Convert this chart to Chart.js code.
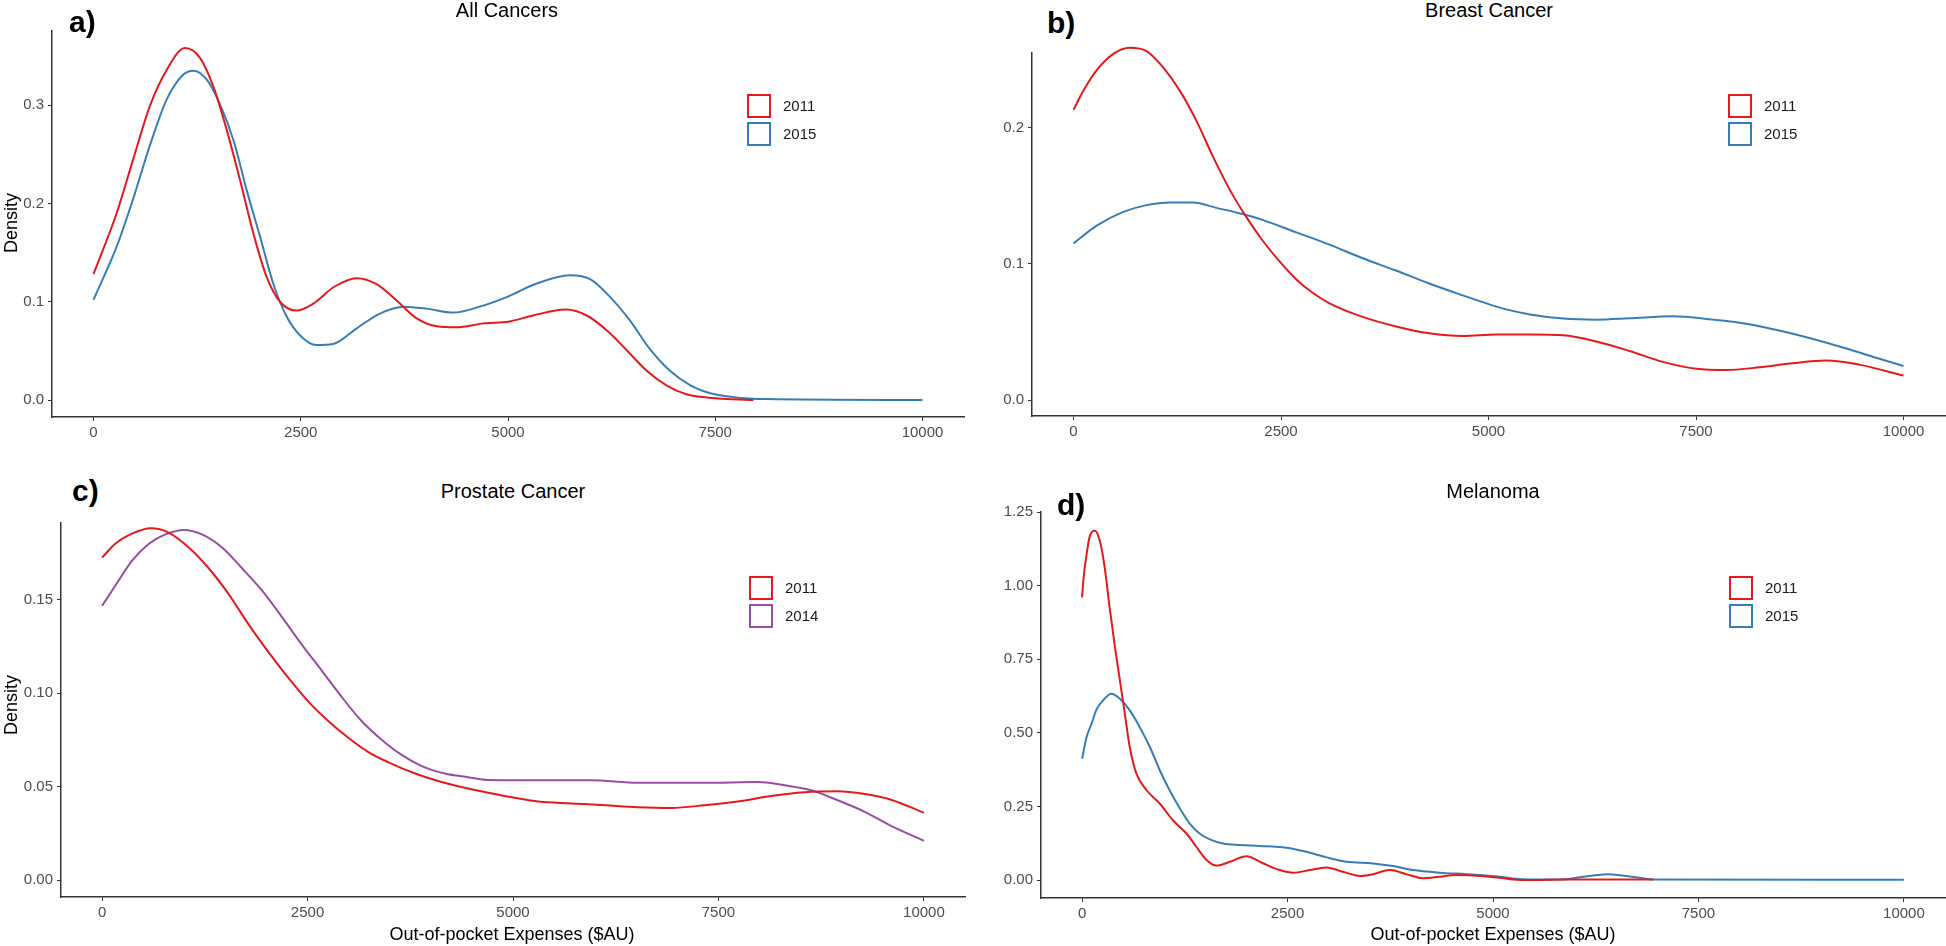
<!DOCTYPE html>
<html lang="en">
<head>
<meta charset="utf-8">
<title>Out-of-pocket expenses density</title>
<script src="https://cdn.jsdelivr.net/npm/chart.js"></script>
<style>
  body { margin: 0; width: 1946px; height: 946px; overflow: hidden; background: #fff;
         font-family: "Liberation Sans", Arial, sans-serif; position: relative; }
  canvas, .txt, .key, .keylab { position: absolute; }
  .tag { font-weight: bold; font-size: 30px; line-height: 30px; color: #000; }
  .title { font-size: 20px; line-height: 20px; width: 400px; text-align: center; color: #000; }
  .axt { font-size: 18px; line-height: 18px; width: 400px; text-align: center; color: #000; }
  .key { width: 20px; height: 20px; border: 2px solid; }
  .keylab { font-size: 15px; line-height: 24px; color: #1a1a1a; }
</style>
</head>
<body>
<script>
var RED = '#e41a1c', BLUE = '#377eb8', PURPLE = '#984ea3';
var FONT = '"Liberation Sans", Arial, sans-serif';

var xTicks = [0, 2500, 5000, 7500, 10000];

// a) All Cancers
var allX2011 = [0, 280, 480, 680, 885, 1105, 1285, 1450, 1610, 1770, 1930, 2090, 2250, 2450, 2650, 2900, 3175, 3415, 3660, 3900, 4140, 4380, 4700, 5020, 5300, 5700, 5950, 6190, 6430, 6670, 6910, 7150, 7400, 7650, 7960];
var allY2011 = [0.128, 0.19, 0.245, 0.299, 0.336, 0.358, 0.348, 0.318, 0.274, 0.223, 0.169, 0.125, 0.100, 0.091, 0.098, 0.115, 0.124, 0.118, 0.101, 0.083, 0.075, 0.074, 0.078, 0.080, 0.086, 0.092, 0.086, 0.071, 0.051, 0.030, 0.015, 0.006, 0.0027, 0.001, 0.0];
var allX2015 = [0, 280, 480, 685, 885, 1085, 1205, 1365, 1525, 1690, 1850, 2010, 2170, 2330, 2490, 2690, 2890, 3175, 3455, 3740, 4020, 4340, 4660, 5020, 5300, 5750, 5990, 6230, 6470, 6710, 6950, 7200, 7440, 7720, 8120, 10000];
var allY2015 = [0.102, 0.156, 0.205, 0.260, 0.306, 0.331, 0.335, 0.326, 0.301, 0.264, 0.213, 0.166, 0.118, 0.085, 0.066, 0.056, 0.057, 0.073, 0.088, 0.095, 0.093, 0.089, 0.095, 0.106, 0.117, 0.127, 0.123, 0.105, 0.081, 0.052, 0.030, 0.015, 0.007, 0.003, 0.001, 0.0];
var allYTicks = [0, 0.1, 0.2, 0.3];
var allYLabels = ['0.0', '0.1', '0.2', '0.3'];

// b) Breast Cancer
var breX2011 = [0, 120, 280, 480, 680, 880, 1080, 1280, 1480, 1685, 1885, 2085, 2285, 2485, 2685, 2885, 3085, 3485, 3885, 4285, 4690, 5095, 5500, 5900, 6300, 6700, 7100, 7500, 7860, 8265, 8665, 9065, 9465, 10000];
var breY2011 = [0.213, 0.227, 0.242, 0.254, 0.2585, 0.256, 0.244, 0.227, 0.205, 0.178, 0.154, 0.134, 0.1165, 0.1015, 0.0885, 0.0785, 0.071, 0.061, 0.054, 0.049, 0.047, 0.048, 0.048, 0.0475, 0.043, 0.036, 0.028, 0.023, 0.022, 0.024, 0.027, 0.029, 0.026, 0.018];
var breX2015 = [0, 280, 600, 880, 1160, 1440, 1720, 2000, 2285, 2685, 3085, 3485, 3885, 4285, 4690, 5010, 5215, 5500, 5900, 6300, 6700, 7220, 7700, 8100, 8500, 8900, 9300, 9700, 10000];
var breY2015 = [0.115, 0.128, 0.138, 0.143, 0.145, 0.145, 0.141, 0.137, 0.132, 0.123, 0.114, 0.104, 0.095, 0.0855, 0.0768, 0.0702, 0.0665, 0.0628, 0.0598, 0.059, 0.060, 0.0615, 0.059, 0.056, 0.051, 0.045, 0.038, 0.0305, 0.025];
var breYTicks = [0, 0.1, 0.2];
var breYLabels = ['0.0', '0.1', '0.2'];

// c) Prostate Cancer
var proX2011 = [0, 160, 365, 590, 810, 1055, 1295, 1540, 1780, 2025, 2270, 2510, 2755, 3000, 3240, 3485, 3810, 4130, 4455, 4780, 5020, 5310, 5710, 6120, 6520, 6930, 7330, 7740, 8140, 8550, 8950, 9280, 9600, 10000];
var proY2011 = [0.1726, 0.180, 0.1854, 0.1883, 0.186, 0.178, 0.167, 0.153, 0.137, 0.122, 0.108, 0.0955, 0.085, 0.076, 0.0685, 0.063, 0.057, 0.0525, 0.049, 0.046, 0.044, 0.042, 0.041, 0.040, 0.039, 0.0386, 0.040, 0.042, 0.045, 0.047, 0.0475, 0.046, 0.043, 0.036];
var proX2014 = [0, 160, 365, 570, 770, 995, 1215, 1460, 1700, 1945, 2185, 2430, 2675, 2915, 3160, 3405, 3645, 3890, 4170, 4455, 4700, 5020, 5950, 6520, 7330, 7980, 8305, 8630, 8950, 9280, 9600, 10000];
var proY2014 = [0.1468, 0.1575, 0.171, 0.180, 0.185, 0.1874, 0.185, 0.178, 0.167, 0.155, 0.141, 0.126, 0.112, 0.098, 0.085, 0.075, 0.067, 0.061, 0.057, 0.055, 0.0535, 0.0534, 0.0534, 0.052, 0.052, 0.0525, 0.0507, 0.048, 0.0427, 0.0365, 0.029, 0.021];
var proYTicks = [0, 0.05, 0.1, 0.15];
var proYLabels = ['0.00', '0.05', '0.10', '0.15'];

// d) Melanoma
var melX2011 = [0, 15, 55, 95, 155, 215, 275, 335, 400, 460, 520, 580, 660, 785, 945, 1105, 1270, 1390, 1515, 1635, 1800, 2000, 2200, 2405, 2570, 2770, 2975, 3175, 3380, 3540, 3745, 3945, 4150, 4350, 4555, 4840, 5080, 5245, 5450, 5850, 6950];
var melY2011 = [0.96, 1.017, 1.107, 1.169, 1.186, 1.153, 1.062, 0.926, 0.791, 0.678, 0.565, 0.452, 0.362, 0.305, 0.26, 0.203, 0.158, 0.113, 0.068, 0.049, 0.062, 0.081, 0.057, 0.034, 0.025, 0.034, 0.043, 0.028, 0.014, 0.020, 0.034, 0.020, 0.006, 0.011, 0.017, 0.014, 0.008, 0.002, 0.0, 0.002, 0.002];
var melX2015 = [0, 55, 115, 175, 255, 355, 460, 580, 700, 825, 945, 1065, 1190, 1310, 1430, 1555, 1715, 1920, 2160, 2485, 2730, 2975, 3215, 3540, 3785, 4025, 4350, 4675, 4840, 5080, 5245, 5450, 5850, 6015, 6175, 6400, 6620, 6785, 6945, 10000];
var melY2015 = [0.412, 0.486, 0.531, 0.579, 0.610, 0.633, 0.616, 0.576, 0.52, 0.452, 0.373, 0.305, 0.243, 0.192, 0.158, 0.138, 0.124, 0.119, 0.116, 0.110, 0.096, 0.077, 0.062, 0.0565, 0.0475, 0.034, 0.025, 0.020, 0.017, 0.011, 0.005, 0.002, 0.002, 0.008, 0.0136, 0.020, 0.0136, 0.008, 0.002, 0.001];
var melYTicks = [0, 0.25, 0.5, 0.75, 1, 1.25];
var melYLabels = ['0.00', '0.25', '0.50', '0.75', '1.00', '1.25'];

var xTitle = 'Out-of-pocket Expenses ($AU)';
var yTitle = 'Density';

// layout of the four panels (plot area in page pixels)
var panels = [
  { tag: 'a)', tagPos: [69, 7], title: 'All Cancers', titlePos: [507, 0],
    area: [52, 30, 964, 417], ymin: -0.0172, ymax: 0.3753, yTicks: allYTicks, yLabels: allYLabels,
    series: [{label: '2011', color: RED, xs: allX2011, ys: allY2011},
             {label: '2015', color: BLUE, xs: allX2015, ys: allY2015}],
    legend: [747, 94], ylab: [11, 223], xlab: null },
  { tag: 'b)', tagPos: [1047, 8], title: 'Breast Cancer', titlePos: [1489, 0],
    area: [1032, 52, 1945, 416], ymin: -0.0117, ymax: 0.2546, yTicks: breYTicks, yLabels: breYLabels,
    series: [{label: '2011', color: RED, xs: breX2011, ys: breY2011},
             {label: '2015', color: BLUE, xs: breX2015, ys: breY2015}],
    legend: [1728, 94], ylab: null, xlab: null },
  { tag: 'c)', tagPos: [72, 476], title: 'Prostate Cancer', titlePos: [513, 481],
    area: [61, 522, 965, 897], ymin: -0.0091, ymax: 0.1911, yTicks: proYTicks, yLabels: proYLabels,
    series: [{label: '2011', color: RED, xs: proX2011, ys: proY2011},
             {label: '2014', color: PURPLE, xs: proX2014, ys: proY2014}],
    legend: [749, 576], ylab: [11, 705], xlab: [512, 934] },
  { tag: 'd)', tagPos: [1057, 490], title: 'Melanoma', titlePos: [1493, 481],
    area: [1041, 511, 1945, 898], ymin: -0.061, ymax: 1.25, yTicks: melYTicks, yLabels: melYLabels,
    series: [{label: '2011', color: RED, xs: melX2011, ys: melY2011},
             {label: '2015', color: BLUE, xs: melX2015, ys: melY2015}],
    legend: [1729, 576], ylab: null, xlab: [1493, 934] }
];

function addText(cls, text, left, top, extra) {
  var d = document.createElement('div');
  d.className = 'txt ' + cls;
  d.textContent = text;
  d.style.left = left + 'px';
  d.style.top = top + 'px';
  if (extra) d.style.transform = extra;
  document.body.appendChild(d);
  return d;
}

function drawPanel(p) {
  var L = p.area[0], T = p.area[1], R = p.area[2], B = p.area[3];
  var padL = 60, padT = 12, padR = 4, padB = 40;
  var cv = document.createElement('canvas');
  var w = (R - L) + padL + padR, h = (B - T) + padT + padB;
  cv.width = w; cv.height = h;
  cv.style.left = (L - padL) + 'px';
  cv.style.top = (T - padT) + 'px';
  document.body.appendChild(cv);

  var datasets = p.series.map(function (s) {
    return {
      label: s.label,
      data: s.xs.map(function (x, i) { return {x: x, y: s.ys[i]}; }),
      borderColor: s.color,
      borderWidth: 2,
      pointRadius: 0,
      fill: false,
      cubicInterpolationMode: 'monotone',
      clip: false
    };
  });

  new Chart(cv.getContext('2d'), {
    type: 'line',
    data: { datasets: datasets },
    options: {
      responsive: false,
      animation: false,
      events: [],
      layout: { padding: { left: 0, top: padT, right: padR, bottom: 0 } },
      plugins: { legend: { display: false }, tooltip: { enabled: false } },
      scales: {
        x: {
          type: 'linear', min: -500, max: 10500,
          afterFit: function (s) { s.height = padB; },
          afterBuildTicks: function (s) { s.ticks = xTicks.map(function (v) { return {value: v}; }); },
          grid: { drawOnChartArea: false, tickLength: 4, color: '#333', lineWidth: 1 },
          border: { color: '#333', width: 1.5 },
          ticks: { color: '#4d4d4d', font: { size: 15, family: FONT }, padding: 3,
                   maxRotation: 0, autoSkip: false,
                   callback: function (v) { return String(v); } }
        },
        y: {
          type: 'linear', min: p.ymin, max: p.ymax,
          afterFit: function (s) { s.width = padL; },
          afterBuildTicks: function (s) { s.ticks = p.yTicks.map(function (v) { return {value: v}; }); },
          grid: { drawOnChartArea: false, tickLength: 4, color: '#333', lineWidth: 1 },
          border: { color: '#333', width: 1.5 },
          ticks: { color: '#4d4d4d', font: { size: 15, family: FONT }, padding: 4, autoSkip: false,
                   callback: function (v) { return p.yLabels[p.yTicks.indexOf(v)]; } }
        }
      }
    }
  });

  addText('tag', p.tag, p.tagPos[0], p.tagPos[1]);
  addText('title', p.title, p.titlePos[0] - 200, p.titlePos[1]);
  if (p.ylab) addText('axt', yTitle, p.ylab[0] - 200, p.ylab[1] - 9, 'rotate(-90deg)');
  if (p.xlab) addText('axt', xTitle, p.xlab[0] - 200, p.xlab[1] - 9);

  p.series.forEach(function (s, i) {
    var top = p.legend[1] + i * 28;
    var k = document.createElement('div');
    k.className = 'key';
    k.style.left = p.legend[0] + 'px';
    k.style.top = top + 'px';
    k.style.borderColor = s.color;
    document.body.appendChild(k);
    addText('keylab', s.label, p.legend[0] + 36, top);
  });
}

panels.forEach(drawPanel);
</script>
</body>
</html>
